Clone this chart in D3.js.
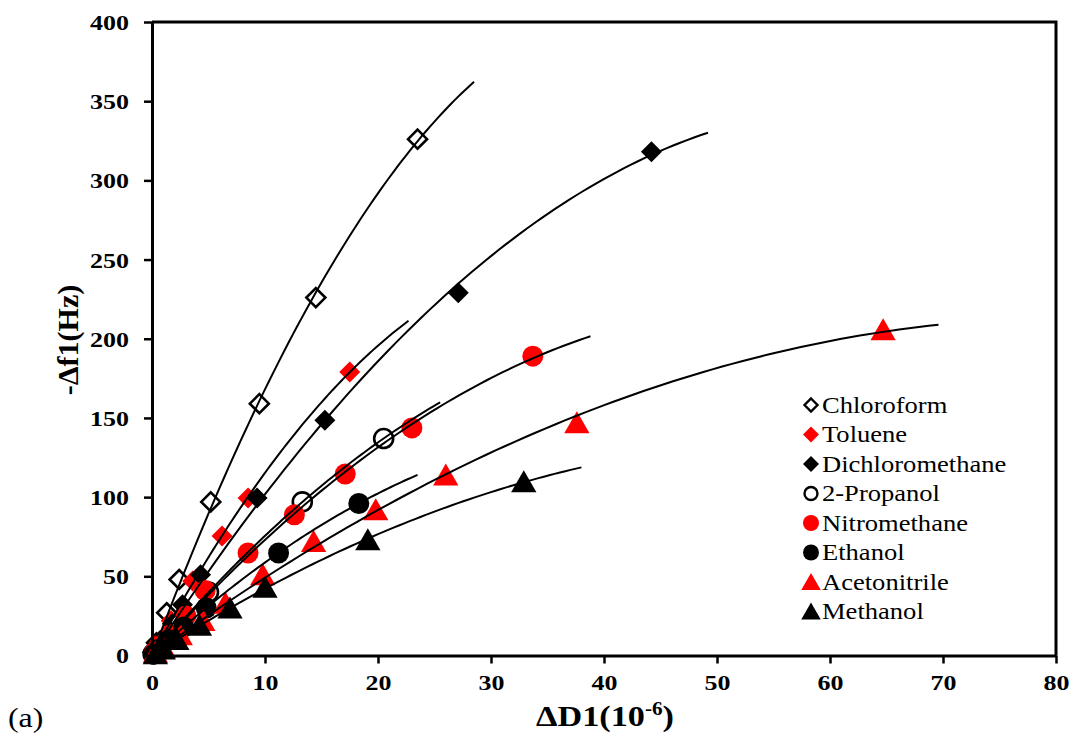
<!DOCTYPE html>
<html>
<head>
<meta charset="utf-8">
<script src="https://cdn.jsdelivr.net/npm/d3@7"></script>
<style>
  body { margin: 0; background: #fff; }
  svg text { font-family: "Liberation Serif", "Times New Roman", "DejaVu Serif", serif; fill: #000; }
</style>
</head>
<body>
<div class="chartWrap"></div>
<script>
var width = 1071,
  height = 745,
  margin = {top: 22, left: 152},
  plotW = 1056 - margin.left,
  plotH = 655.5 - margin.top,
  stretch = 1.18,
  serif = '"Liberation Serif", "Times New Roman", "DejaVu Serif", serif';

// series data (x = ΔD1, y = -Δf1)
var names = ['Chloroform', 'Toluene', 'Dichloromethane', '2-Propanol', 'Nitromethane', 'Ethanol', 'Acetonitrile', 'Methanol'];
var shapes = ['diamond', 'diamond', 'diamond', 'circle', 'circle', 'circle', 'triangle', 'triangle'];
var fills = ['#fff', '#ff0000', '#000', '#fff', '#ff0000', '#000', '#ff0000', '#000'];
var strokes = ['#000', 'none', 'none', '#000', 'none', 'none', 'none', 'none'];

var chloroform = [[0.1, 2], [0.4, 8], [1.3, 27], [2.4, 48], [5.2, 97], [9.5, 159], [14.5, 226], [23.5, 326]];
var toluene = [[0.2, 3], [0.7, 9], [1.7, 22], [3.6, 47], [6.2, 75.5], [8.5, 99.5], [17.5, 179]];
var dichloromethane = [[0.2, 3], [0.8, 9], [1.8, 20], [2.7, 32], [4.3, 51], [9.3, 99.5], [15.3, 148.6], [27.1, 229], [44.2, 318]];
var propanol = [[0.1, 1], [0.5, 4], [1.2, 10], [2.5, 20], [5.0, 40], [13.3, 97], [20.5, 137]];
var nitromethane = [[0.2, 2], [0.7, 6], [1.6, 13], [3.0, 25], [4.7, 41], [8.5, 64.7], [12.6, 88.8], [17.1, 114.6], [23.0, 143.7], [33.7, 189]];
var ethanol = [[0.2, 1], [0.6, 4], [1.5, 10], [2.8, 18], [4.8, 30], [11.2, 64.7], [18.3, 96]];
var acetonitrile = [[0.3, 2], [1.0, 5], [2.5, 13], [4.5, 22], [6.5, 33], [9.8, 51], [14.3, 72], [19.8, 92], [26.0, 114], [37.6, 147], [64.7, 205.6]];
var methanol = [[0.3, 1], [1.0, 4], [2.2, 10], [4.2, 19], [6.9, 30], [10.0, 43], [19.1, 73], [32.9, 109.6]];

var seriesData = [chloroform, toluene, dichloromethane, propanol, nitromethane, ethanol, acetonitrile, methanol];
// how far each trendline runs along x
var lineEnd = [28.5, 22.7, 49.2, 25.5, 38.8, 23.5, 69.6, 38.0];

var xTicks = [0, 10, 20, 30, 40, 50, 60, 70, 80];
var yTicks = [0, 50, 100, 150, 200, 250, 300, 350, 400];

var svg = d3.select('.chartWrap')
  .append('svg')
  .attr('width', width)
  .attr('height', height);

var x = d3.scaleLinear().domain([0, 80]).range([0, plotW]);
var y = d3.scaleLinear().domain([0, 400]).range([plotH, 0]);

var g = svg.append('g').attr('transform', 'translate(' + margin.left + ',' + margin.top + ')');

// the picture is a bit wide, so text is stretched sideways
var widen = function(sel){
  sel.each(function(){
    var len = this.getComputedTextLength();
    d3.select(this).attr('textLength', len * stretch).attr('lengthAdjust', 'spacingAndGlyphs');
  });
};

// marker paths
var markerPath = function(type, s){
  if(type == 'diamond'){
    return 'M0,' + (-s) + 'L' + s + ',0L0,' + s + 'L' + (-s) + ',0Z';
  } else if(type == 'circle'){
    return d3.symbol().type(d3.symbolCircle).size(Math.PI * s * s)();
  } else {
    return 'M0,' + (-s * 1.05) + 'L' + (s * 1.15) + ',' + (s * 0.95) + 'L' + (-s * 1.15) + ',' + (s * 0.95) + 'Z';
  }
};

// least squares y = a*x + b*x^2 (through origin), like the trendlines
var fitQuad = function(pts){
  var s2 = 0, s3 = 0, s4 = 0, sy1 = 0, sy2 = 0;
  pts.forEach(function(p){
    var px = p[0], py = p[1];
    s2 += px * px; s3 += px * px * px; s4 += px * px * px * px;
    sy1 += px * py; sy2 += px * px * py;
  });
  var det = s2 * s4 - s3 * s3;
  return {a: (sy1 * s4 - s3 * sy2) / det, b: (s2 * sy2 - s3 * sy1) / det};
};

// markers
seriesData.forEach(function(pts, i){
  var size = shapes[i] == 'triangle' ? 11 : 10.5;
  g.selectAll('.pt' + i)
    .data(pts)
    .enter()
      .append('path')
      .attr('class', 'pt' + i)
      .attr('d', markerPath(shapes[i], strokes[i] == 'none' ? size : size - 1))
      .attr('transform', function(d){ return 'translate(' + x(d[0]) + ',' + y(d[1]) + ')'; })
      .style('fill', fills[i])
      .style('stroke', strokes[i])
      .style('stroke-width', 2.6);
});

// trendlines on top
var line = d3.line().x(function(d){ return x(d[0]); }).y(function(d){ return y(d[1]); });
seriesData.forEach(function(pts, i){
  var f = fitQuad(pts);
  var xs = d3.range(0, lineEnd[i] + 0.001, lineEnd[i] / 80);
  var fitPts = xs.map(function(v){ return [v, f.a * v + f.b * v * v]; });
  g.append('path')
    .datum(fitPts)
    .attr('d', line)
    .style('fill', 'none')
    .style('stroke', '#000')
    .style('stroke-width', 2);
});

// axes
var xAxis = g.append('g')
  .attr('transform', 'translate(0,' + plotH + ')')
  .call(d3.axisBottom(x).tickValues(xTicks).tickSize(8).tickSizeOuter(0));
var yAxis = g.append('g')
  .call(d3.axisLeft(y).tickValues(yTicks).tickSize(8).tickSizeOuter(0));

[xAxis, yAxis].forEach(function(ax){
  ax.attr('font-family', serif);
  ax.selectAll('path.domain').style('stroke', '#000').style('stroke-width', 3);
  ax.selectAll('.tick line').style('stroke', '#000').style('stroke-width', 2.5);
  ax.selectAll('.tick text')
    .style('font-family', serif)
    .style('font-weight', 'bold')
    .style('font-size', '22px')
    .style('fill', '#000');
});
xAxis.selectAll('.tick text').attr('y', 34).attr('dy', 0);
yAxis.selectAll('.tick text').attr('x', -23).attr('dy', '0.34em');
widen(xAxis.selectAll('.tick text'));
widen(yAxis.selectAll('.tick text'));

// top and right frame
g.append('path')
  .attr('d', 'M0,0H' + plotW + 'V' + plotH)
  .style('fill', 'none')
  .style('stroke', '#000')
  .style('stroke-width', 3);

// axis titles
var xTitle = svg.append('text')
  .attr('x', 605)
  .attr('y', 726)
  .attr('text-anchor', 'middle')
  .style('font-weight', 'bold')
  .style('font-size', '29px');
xTitle.append('tspan').text('ΔD1(10');
xTitle.append('tspan').attr('dy', -11).style('font-size', '18px').text('-6');
xTitle.append('tspan').attr('dy', 11).text(')');
widen(xTitle);

svg.append('text')
  .attr('transform', 'translate(78,340) rotate(-90)')
  .attr('text-anchor', 'middle')
  .style('font-weight', 'bold')
  .style('font-size', '30px')
  .text('-Δf1(Hz)');

var tag = svg.append('text')
  .attr('x', 8)
  .attr('y', 727)
  .style('font-size', '27px')
  .text('(a)');
widen(tag);

// legend
var legend = svg.append('g').attr('transform', 'translate(811,405)');
names.forEach(function(name, i){
  var row = legend.append('g').attr('transform', 'translate(0,' + (i * 29.5) + ')');
  row.append('path')
    .attr('d', markerPath(shapes[i], shapes[i] == 'triangle' ? 8.5 : (strokes[i] == 'none' ? 8 : 6.5)))
    .style('fill', fills[i])
    .style('stroke', strokes[i])
    .style('stroke-width', 2.4);
  var t = row.append('text')
    .attr('x', 11)
    .attr('dy', '0.35em')
    .style('font-size', '22.5px')
    .text(name);
  widen(t);
});
</script>
</body>
</html>
